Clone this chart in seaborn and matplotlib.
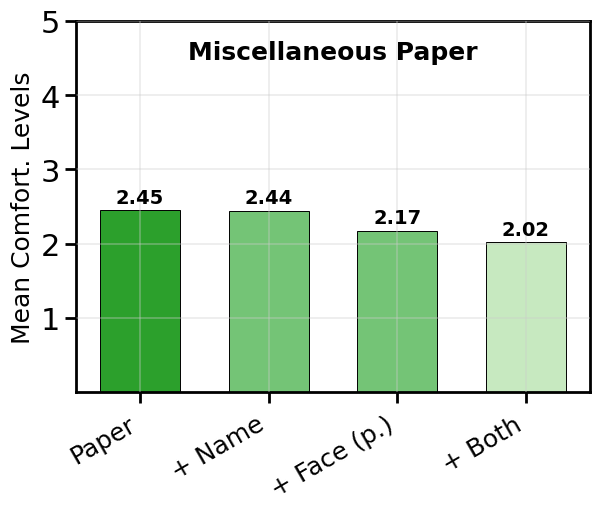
import pandas as pd
import matplotlib.pyplot as plt
import seaborn as sns

conditions = ["Paper", "+ Name", "+ Face (p.)", "+ Both"]
comfort = [2.45, 2.44, 2.17, 2.02]
bar_colors = ["#2ca02c", "#74c476", "#74c476", "#c7e9c0"]

df = pd.DataFrame({"condition": conditions, "comfort": comfort})

sns.set_style("white")
plt.rcParams['font.family'] = ['DejaVu Sans']
plt.rcParams['text.color'] = 'black'
plt.rcParams['axes.labelcolor'] = 'black'
plt.rcParams['xtick.color'] = 'black'
plt.rcParams['ytick.color'] = 'black'

fig = plt.figure(figsize=(6.01, 5.10), dpi=100)
ax = fig.add_axes([0.126, 0.229, 0.856, 0.728])

sns.barplot(data=df, x="condition", y="comfort", hue="condition", palette=bar_colors,
            legend=False, width=0.62, edgecolor="black", linewidth=0.7, ax=ax, saturation=1)

# grid drawn over the bars, faint
ax.set_axisbelow(False)
ax.grid(True, color="#cccccc", alpha=0.4, linewidth=1.2)

for i, v in enumerate(comfort):
    ax.text(i, v + 0.05, f"{v:.2f}", ha="center", va="bottom", fontsize=14, fontweight="bold")

ax.text(0.5, 0.915, "Miscellaneous Paper", transform=ax.transAxes, ha="center", va="center",
        fontsize=18, fontweight="bold")

ax.set_ylim(0, 5)
ax.set_xlim(-0.5, 3.5)
ax.set_yticks([1, 2, 3, 4, 5])
ax.set_xlabel("")
ax.set_ylabel("Mean Comfort. Levels", fontsize=18)
ax.tick_params(axis="y", labelsize=22, length=8, width=2, left=True)
ax.tick_params(axis="x", labelsize=18, length=8, width=2, bottom=True, pad=6)
plt.setp(ax.get_xticklabels(), rotation=30, ha="right")

for s in ax.spines.values():
    s.set_linewidth(2)
    s.set_color("black")

fig.savefig("out.png", dpi=100)
